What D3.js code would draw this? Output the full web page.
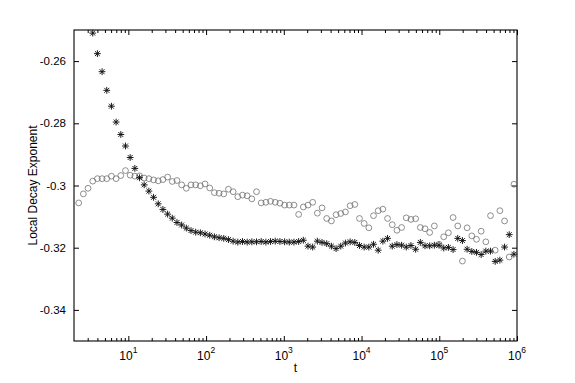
<!DOCTYPE html>
<html><head><meta charset="utf-8">
<script src="https://cdn.jsdelivr.net/npm/d3@7"></script>
<style>
body{margin:0;background:#fff}
svg{display:block}
text{font-family:"Liberation Sans",Arial,Helvetica,sans-serif;fill:#000}
</style></head>
<body><svg id="chart" width="575" height="383"></svg>
<script>
// Samples lie on a regular log grid t = 2^(k/5)
const starFirstIndex = 9;
const circleFirstIndex = 6;
const starValues = [
 -0.2510,-0.2576,-0.2634,-0.2694,-0.2745,-0.2796,-0.2836,-0.2873,-0.2910,-0.2945,
 -0.2975,-0.2998,-0.3018,-0.3038,-0.3059,-0.3077,-0.3092,-0.3105,-0.3119,-0.3127,
 -0.3137,-0.3145,-0.3150,-0.3152,-0.3156,-0.3160,-0.3165,-0.3168,-0.3170,-0.3174,
 -0.3179,-0.3182,-0.3180,-0.3182,-0.3181,-0.3181,-0.3180,-0.3182,-0.3180,-0.3179,
 -0.3180,-0.3181,-0.3182,-0.3182,-0.3180,-0.3176,-0.3195,-0.3198,-0.3179,-0.3183,
 -0.3187,-0.3195,-0.3203,-0.3195,-0.3185,-0.3181,-0.3183,-0.3193,-0.3198,-0.3198,
 -0.3189,-0.3208,-0.3179,-0.3170,-0.3195,
 -0.3190,-0.3192,-0.3198,-0.3193,-0.3205,-0.3183,-0.3194,-0.3194,-0.3192,-0.3192,
 -0.3201,-0.3199,-0.3206,-0.3170,-0.3177,-0.3205,-0.3212,-0.3215,-0.3222,-0.3211,
 -0.3211,-0.3244,-0.3240,-0.3198,-0.3158,-0.3221
];
const circleValues = [
 -0.3056,-0.3027,-0.3009,-0.2986,-0.2978,-0.2978,-0.2978,-0.2970,-0.2978,-0.2968,
 -0.2952,-0.2967,-0.2970,-0.2969,-0.2976,-0.2978,-0.2982,-0.2985,-0.2981,-0.2973,
 -0.2987,-0.2984,
 -0.2998,-0.3009,-0.2998,-0.2998,-0.3001,-0.2995,-0.3008,-0.3023,-0.3025,-0.3027,
 -0.3012,-0.3020,-0.3036,-0.3031,-0.3033,-0.3043,-0.3020,-0.3056,-0.3054,-0.3051,
 -0.3054,-0.3057,-0.3063,-0.3063,-0.3063,-0.3093,-0.3069,-0.3063,-0.3054,-0.3089,
 -0.3072,-0.3106,-0.3114,-0.3094,-0.3090,-0.3085,-0.3065,-0.3061,-0.3106,-0.3122,
 -0.3136,-0.3097,-0.3081,-0.3076,-0.3106,-0.3126,
 -0.3144,-0.3135,-0.3104,-0.3109,-0.3107,-0.3135,-0.3139,-0.3151,-0.3130,-0.3189,
 -0.3165,-0.3152,-0.3103,-0.3130,-0.3243,-0.3136,-0.3162,-0.3173,-0.3147,-0.3181,
 -0.3097,-0.3208,-0.3081,-0.3114,-0.3230,-0.2996
];
const yTickValues = [-0.34,-0.32,-0.3,-0.28,-0.26];
const yTickLabels = ["-0.34","-0.32","-0.3","-0.28","-0.26"];
const xMajorTicks = [1e1,1e2,1e3,1e4,1e5,1e6];
const xMajorExponents = ["1","2","3","4","5","6"];
const xDomain = [2, 1e6];
const yDomain = [-0.35, -0.25];

const sampleTime = k => Math.pow(2, k / 5);
const stars = starValues.map((v, i) => ({t: sampleTime(starFirstIndex + i), v}));
const circles = circleValues.map((v, i) => ({t: sampleTime(circleFirstIndex + i), v}));

const L = 74, R = 517, T = 30, B = 341;
const svg = d3.select("#chart");
const x = d3.scaleLog().domain(xDomain).range([L, R]);
const y = d3.scaleLinear().domain(yDomain).range([B, T]);

// minor ticks for log axis
const xMinor = [];
for (let e = 0; e <= 5; e++) for (let m = 2; m <= 9; m++) {
  const v = m * Math.pow(10, e);
  if (v > xDomain[0] && v < xDomain[1]) xMinor.push(v);
}

function styleAxis(g){
  g.select(".domain").remove();
  g.selectAll(".tick line").attr("stroke","#000").attr("stroke-width",1);
}
// bottom
svg.append("g").attr("transform",`translate(0,${B})`)
  .call(d3.axisBottom(x).tickValues(xMinor).tickSizeInner(-3).tickSizeOuter(0).tickFormat(""))
  .call(styleAxis);
svg.append("g").attr("transform",`translate(0,${B})`)
  .call(d3.axisBottom(x).tickValues(xMajorTicks).tickSizeInner(-5).tickSizeOuter(0).tickFormat(""))
  .call(styleAxis);
// top
svg.append("g").attr("transform",`translate(0,${T})`)
  .call(d3.axisTop(x).tickValues(xMinor).tickSizeInner(-3).tickSizeOuter(0).tickFormat(""))
  .call(styleAxis);
svg.append("g").attr("transform",`translate(0,${T})`)
  .call(d3.axisTop(x).tickValues(xMajorTicks).tickSizeInner(-5).tickSizeOuter(0).tickFormat(""))
  .call(styleAxis);
// left
const yl = svg.append("g").attr("transform",`translate(${L},0)`)
  .call(d3.axisLeft(y).tickValues(yTickValues).tickSizeInner(-5).tickSizeOuter(0).tickPadding(8)
    .tickFormat((d,i)=>yTickLabels[i]))
  .call(styleAxis);
yl.selectAll("text").attr("font-size","11.5px").attr("font-family","Liberation Sans, Arial, sans-serif").attr("fill","#000");
// right
svg.append("g").attr("transform",`translate(${R},0)`)
  .call(d3.axisRight(y).tickValues(yTickValues).tickSizeInner(-5).tickSizeOuter(0).tickFormat(""))
  .call(styleAxis);

// x major labels 10^n
xMajorTicks.forEach((v,i)=>{
  const tx = svg.append("text").attr("x", x(v)).attr("y", 360)
    .attr("text-anchor","middle").attr("font-size","12px");
  tx.append("tspan").text("10");
  tx.append("tspan").attr("dy","-7").attr("font-size","8.5px").text(xMajorExponents[i]);
});

// box
svg.append("rect").attr("x",L).attr("y",T).attr("width",R-L).attr("height",B-T)
  .attr("fill","none").attr("stroke","#000").attr("stroke-width",1.1);

// axis titles
svg.append("text").attr("x",(L+R)/2).attr("y",372).attr("text-anchor","middle")
  .attr("font-size","12px").text("t");
svg.append("text").attr("transform",`translate(36.5,${(T+B)/2}) rotate(-90)`)
  .attr("text-anchor","middle").attr("font-size","12px").text("Local Decay Exponent");

// circles
svg.append("g").selectAll("circle").data(circles).join("circle")
  .attr("cx", d=>x(d.t)).attr("cy", d=>y(d.v)).attr("r",2.9)
  .attr("fill","none").attr("stroke","#6a6a6a").attr("stroke-width",0.75);

// stars (MATLAB '*' marker)
const s = 3.4;
const d45 = s * 0.72;
const starPath = `M${-s},0L${s},0M0,${-s}L0,${s}M${-d45},${-d45}L${d45},${d45}M${-d45},${d45}L${d45},${-d45}`;
svg.append("g").selectAll("path").data(stars).join("path")
  .attr("transform", d=>`translate(${x(d.t)},${y(d.v)})`)
  .attr("d", starPath).attr("fill","none").attr("stroke","#111").attr("stroke-width",0.95);
</script></body></html>
